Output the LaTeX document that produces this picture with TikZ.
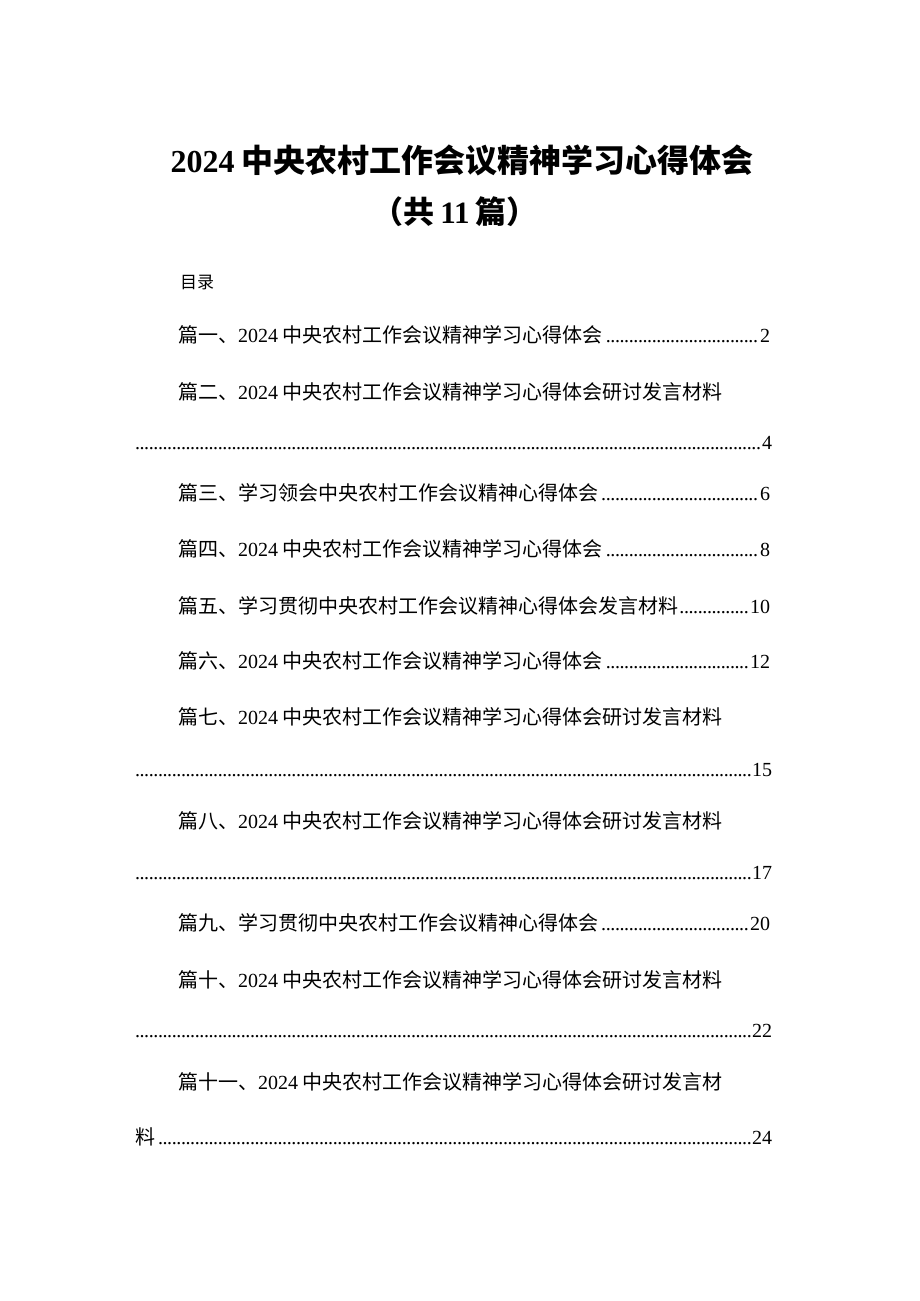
\documentclass[tikz,border=0pt]{standalone}
\usepackage{fontspec}
\setmainfont{Liberation Serif}
\newfontfamily\cjk{Noto Sans CJK SC}
\newcommand{\C}[1]{{\cjk #1}}
\newcommand{\dgsp}{\hspace{4pt}}
\newcommand{\dts}{\leaders\hbox to 4.6pt{\hss.\hss}\hfill}
\begin{document}
\begin{tikzpicture}[x=1pt,y=1pt,
  entry/.style={anchor=base west,inner sep=0pt,font=\fontsize{20}{20}\selectfont}]
\useasboundingbox (0,0) rectangle (920,-1301);
\fill[white] (0,0) rectangle (920,-1301);
\node[anchor=base,inner sep=0pt,font=\fontsize{32}{32}\selectfont\bfseries] (t1) at (462,-172) {2024\hspace{7pt}\C{中央农村工作会议精神学习心得体会}};
\node[anchor=base,inner sep=0pt,font=\fontsize{31}{31}\selectfont\bfseries] (t2) at (455,-223) {\C{（共}\hspace{6pt}11\hspace{6pt}\C{篇）}};
\node[entry,font=\fontsize{17}{17}\selectfont] (ml) at (180,-288) {\C{目录}};
\newcommand{\E}[4]{\node[entry] (#1) at (178,-#2) {\makebox[592pt][l]{#3\dts #4}};}
\newcommand{\D}[3]{\node[entry] (#1) at (135,-#2) {\makebox[637pt][l]{#3}};}
\E{e1}{342}{\C{篇一、}2024\dgsp\C{中央农村工作会议精神学习心得体会}}{2}
\node[entry] (e2) at (178,-399) {\C{篇二、}2024\dgsp\C{中央农村工作会议精神学习心得体会研讨发言材料}};
\D{d2}{449}{\dts 4}
\E{e3}{500}{\C{篇三、学习领会中央农村工作会议精神心得体会}}{6}
\E{e4}{556}{\C{篇四、}2024\dgsp\C{中央农村工作会议精神学习心得体会}}{8}
\E{e5}{613}{\C{篇五、学习贯彻中央农村工作会议精神心得体会发言材料}}{10}
\E{e6}{668}{\C{篇六、}2024\dgsp\C{中央农村工作会议精神学习心得体会}}{12}
\node[entry] (e7) at (178,-724) {\C{篇七、}2024\dgsp\C{中央农村工作会议精神学习心得体会研讨发言材料}};
\D{d7}{776}{\dts 15}
\node[entry] (e8) at (178,-828) {\C{篇八、}2024\dgsp\C{中央农村工作会议精神学习心得体会研讨发言材料}};
\D{d8}{879}{\dts 17}
\E{e9}{930}{\C{篇九、学习贯彻中央农村工作会议精神心得体会}}{20}
\node[entry] (e10) at (178,-987) {\C{篇十、}2024\dgsp\C{中央农村工作会议精神学习心得体会研讨发言材料}};
\D{d10}{1037}{\dts 22}
\node[entry] (e11) at (178,-1089) {\C{篇十一、}2024\dgsp\C{中央农村工作会议精神学习心得体会研讨发言材}};
\D{d11}{1144}{\C{料}\dts 24}
\end{tikzpicture}
\end{document}
